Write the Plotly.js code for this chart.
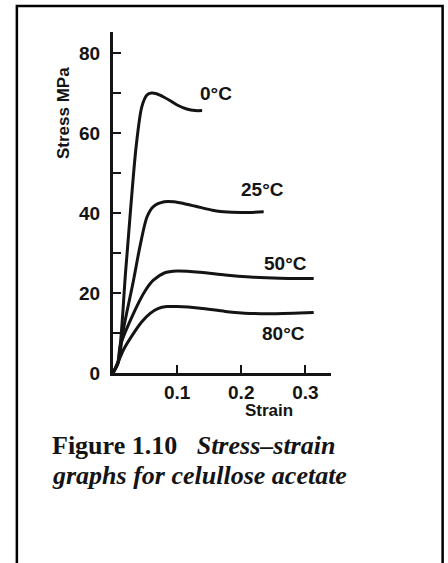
<!DOCTYPE html>
<html>
<head>
<meta charset="utf-8">
<script src="https://cdn.plot.ly/plotly-3.0.1.min.js"></script>
<style>
html,body{margin:0;padding:0;background:#fff;}
#chart{width:448px;height:563px;}
</style>
</head>
<body>
<div id="chart"></div>
<script>
// Series labels
const seriesNames = ['0°C', '25°C', '50°C', '80°C'];

// Strain / stress (MPa) readings per temperature
const strain0 = [0, 0.008, 0.02, 0.036, 0.045, 0.053, 0.06, 0.068, 0.079, 0.09, 0.1, 0.115, 0.128, 0.139];
const stress0 = [0, 3, 26, 56.5, 66.6, 69.5, 70, 69.8, 69, 68, 67, 66, 65.6, 65.6];

const strain25 = [0, 0.008, 0.016, 0.032, 0.042, 0.053, 0.063, 0.08, 0.095, 0.115, 0.136, 0.155, 0.172, 0.2, 0.235];
const stress25 = [0, 2.5, 10.7, 23.2, 31.6, 39, 41.6, 42.8, 42.8, 42.2, 41.4, 40.7, 40.3, 40.1, 40.3];

const strain50 = [0, 0.008, 0.011, 0.032, 0.05, 0.063, 0.08, 0.1, 0.136, 0.175, 0.214, 0.26, 0.313];
const stress50 = [0, 2.7, 6.6, 14.9, 20.5, 23.2, 25, 25.5, 25.2, 24.5, 24, 23.7, 23.6];

const strain80 = [0, 0.008, 0.016, 0.032, 0.045, 0.058, 0.07, 0.084, 0.1, 0.136, 0.175, 0.214, 0.25, 0.313];
const stress80 = [0, 2.7, 5.7, 9.9, 12.8, 14.9, 16.1, 16.6, 16.6, 16.2, 15.4, 14.9, 14.8, 15.1];

// Tick values / labels
const xTickVals = [0.1, 0.2, 0.3];
const xTickText = ['0.1', '0.2', '0.3'];
const yTickVals = [0, 20, 40, 60, 80];
const yTickText = ['0', '20', '40', '60', '80'];

// Label anchor points (strain, stress) for the temperature labels
const labelX = [0.161, 0.233, 0.269, 0.266];
const labelY = [70, 46, 27.5, 10];

const xs = [strain0, strain25, strain50, strain80];
const ys = [stress0, stress25, stress50, stress80];

const ink = '#141414';
const sans = 'Liberation Sans, Arial, sans-serif';
const serif = 'Liberation Serif, Times New Roman, serif';

const traces = xs.map((x, i) => ({
  x: x, y: ys[i], name: seriesNames[i], type: 'scatter', mode: 'lines',
  line: {color: ink, width: 3, shape: 'spline', smoothing: 0.8},
  hoverinfo: 'skip', showlegend: false
}));

const annotations = seriesNames.map((t, i) => ({
  text: '<b>' + t + '</b>', x: labelX[i], y: labelY[i], xref: 'x', yref: 'y',
  xanchor: 'center', yanchor: 'middle',
  showarrow: false, font: {family: sans, size: 19, color: ink}
}));

annotations.push({
  text: '<b>Stress MPa</b>', xref: 'paper', yref: 'paper', x: -0.23, y: 0.762,
  xanchor: 'center', yanchor: 'middle',
  textangle: -90, showarrow: false, font: {family: sans, size: 17, color: ink}
});
annotations.push({
  text: '<b>Strain</b>', xref: 'paper', yref: 'paper', x: 0.717, y: -0.111,
  xanchor: 'center', yanchor: 'middle',
  showarrow: false, font: {family: sans, size: 17, color: ink}
});
annotations.push({
  text: '<b>Figure 1.10</b>   <b><i>Stress–strain</i></b>',
  xref: 'paper', yref: 'paper', x: -0.29, y: -0.214, xanchor: 'left', yanchor: 'middle',
  align: 'left', showarrow: false, font: {family: serif, size: 26, color: ink}
});
annotations.push({
  text: '<b><i>graphs for celullose acetate</i></b>',
  xref: 'paper', yref: 'paper', x: -0.29, y: -0.302, xanchor: 'left', yanchor: 'middle',
  align: 'left', showarrow: false, font: {family: serif, size: 26, color: ink}
});

const layout = {
  width: 448, height: 563,
  margin: {l: 113, r: 117.4, t: 32, b: 190, pad: 0},
  paper_bgcolor: '#fff', plot_bgcolor: '#fff',
  showlegend: false,
  xaxis: {
    range: [0, 0.34], showgrid: false, zeroline: false,
    showline: true, linecolor: ink, linewidth: 3,
    tickvals: xTickVals, ticktext: xTickText,
    ticks: 'inside', ticklen: 8, tickwidth: 2, tickcolor: ink,
    ticklabelstandoff: 0,
    tickfont: {family: sans, size: 19, color: ink, weight: 'bold'}
  },
  yaxis: {
    range: [0, 85.25], showgrid: false, zeroline: false,
    showline: true, linecolor: ink, linewidth: 3,
    tickvals: yTickVals, ticktext: yTickText,
    ticks: 'inside', ticklen: 8, tickwidth: 2, tickcolor: ink,
    ticklabelstandoff: 6,
    tickfont: {family: sans, size: 19, color: ink, weight: 'bold'},
    minor: {dtick: 10, ticks: 'inside', ticklen: 8, tickwidth: 2, tickcolor: ink, showgrid: false}
  },
  annotations: annotations,
  shapes: [{
    type: 'rect', xref: 'paper', yref: 'paper',
    x0: -0.441, x1: 1.512, y0: -0.6, y1: 1.076,
    line: {color: '#000', width: 2.5}
  }]
};

Plotly.newPlot('chart', traces, layout, {displayModeBar: false, staticPlot: true});
</script>
</body>
</html>
